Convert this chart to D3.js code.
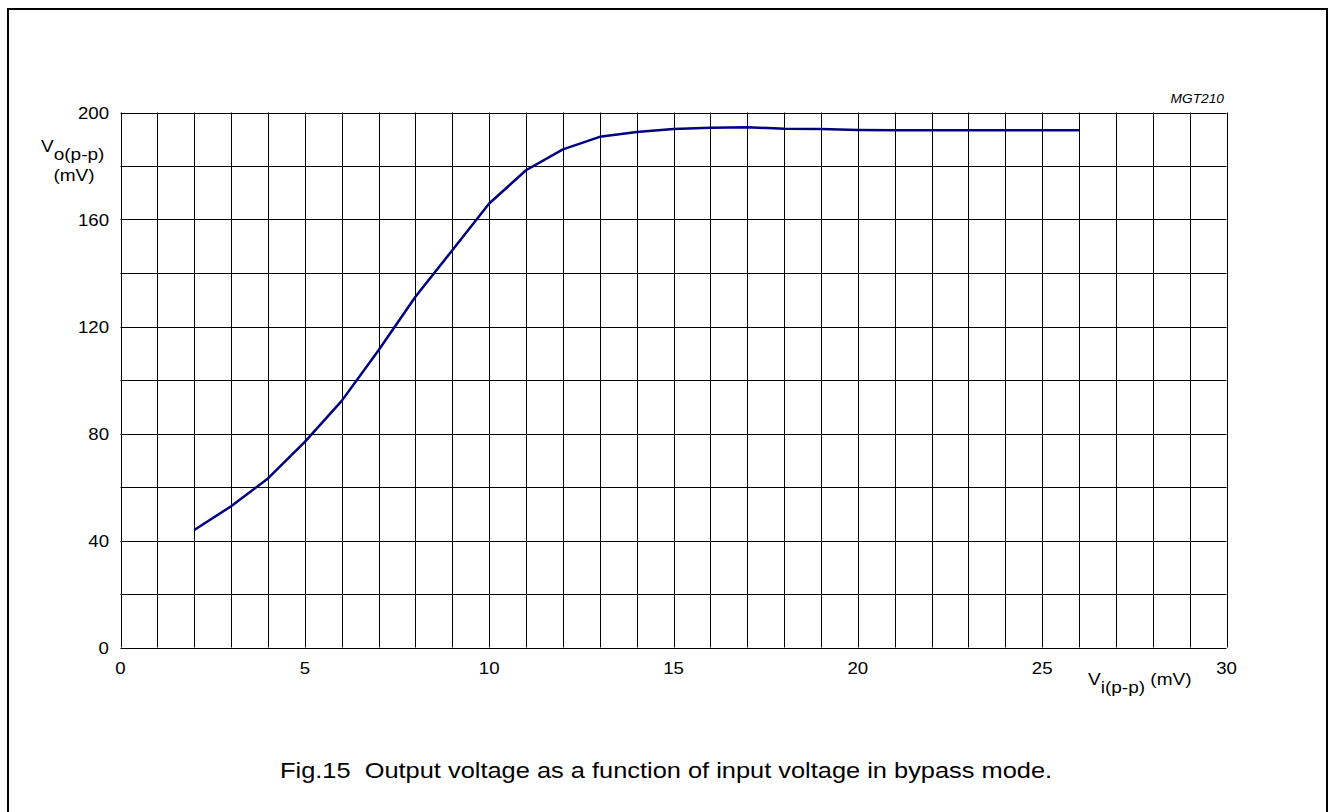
<!DOCTYPE html>
<html>
<head>
<meta charset="utf-8">
<script src="https://cdn.jsdelivr.net/npm/d3@7"></script>
<style>
html,body{margin:0;padding:0;background:#fff;}
svg{display:block;}
text{font-family:"Liberation Sans",Arial,sans-serif;fill:#000;white-space:pre;}
</style>
</head>
<body>
<script>
const xValues = [2,3,4,5,6,7,8,9,10,11,12,13,14,15,16,17,18,19,20,21,22,23,24,25,26];
const yValues = [43.9,52.8,63.2,76.9,92.2,111.1,131.1,148.5,166,178.4,186.2,190.9,192.7,193.8,194.3,194.5,193.9,193.8,193.5,193.4,193.4,193.4,193.4,193.4,193.4];
const xTicks = [0,5,10,15,20,25,30];
const yTicks = [0,40,80,120,160,200];
const xGrid = d3.range(0,31,1);
const yGrid = d3.range(0,201,20);

const W=1329,H=812;
const svg=d3.select("body").append("svg").attr("width",W).attr("height",H);

// frame
svg.append("rect").attr("x",8).attr("y",9).attr("width",1319).attr("height",820)
  .attr("fill","none").attr("stroke","#000").attr("stroke-width",2);

const x=d3.scaleLinear().domain([0,30]).range([120.5,1226.5]);
const y=d3.scaleLinear().domain([0,200]).range([647.5,112.5]);

const g=svg.append("g");
g.selectAll("line.v").data(xGrid).enter().append("line")
  .attr("x1",d=>Math.round(x(d))+0.5).attr("x2",d=>Math.round(x(d))+0.5)
  .attr("y1",y(0)).attr("y2",y(200)).attr("stroke","#000").attr("stroke-width",1);
g.selectAll("line.h").data(yGrid).enter().append("line")
  .attr("y1",d=>Math.round(y(d))+0.5).attr("y2",d=>Math.round(y(d))+0.5)
  .attr("x1",x(0)).attr("x2",x(30)).attr("stroke","#000").attr("stroke-width",1);

// stretched text helper
function stext(px,py,size,sx,anchor){
  return svg.append("text")
    .attr("transform",`translate(${px},${py}) scale(${sx},1)`)
    .attr("text-anchor",anchor||"start").attr("font-size",size);
}

// tick labels
yTicks.forEach(d=>stext(109,y(d)+6.5,16.5,1.13,"end").text(d));
xTicks.forEach(d=>stext(x(d),673.5,16.5,1.13,"middle").text(d));

// line
const pts=xValues.map((v,i)=>[v,yValues[i]]);
svg.append("path").datum(pts)
  .attr("d",d3.line().x(d=>x(d[0])).y(d=>y(d[1])))
  .attr("fill","none").attr("stroke","#000080").attr("stroke-width",2.5)
  .attr("stroke-linejoin","round");

// y axis label
const yl=stext(41,152,17,1.12);
yl.append("tspan").text("V");
yl.append("tspan").attr("dy",8).text("o(p-p)");
stext(74,181,17,1.12,"middle").text("(mV)");

// x axis label
const xl=stext(1088,685,17,1.12);
xl.append("tspan").text("V");
xl.append("tspan").attr("dy",8).text("i(p-p)");
xl.append("tspan").attr("dy",-8).text(" (mV)");

// code
stext(1224,103,12.5,1.1,"end").attr("font-style","italic").text("MGT210");

// caption
stext(280,778,22,1.155).text("Fig.15  Output voltage as a function of input voltage in bypass mode.");
</script>
</body>
</html>
